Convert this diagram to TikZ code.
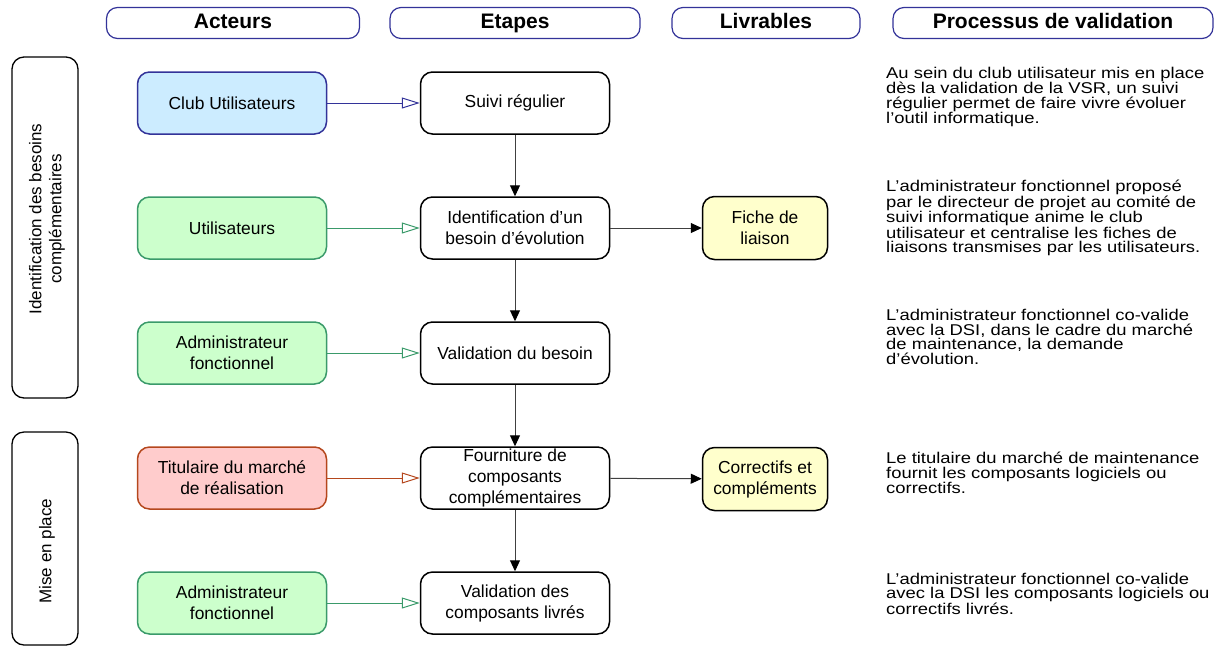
\documentclass[tikz,border=0pt]{standalone}
\usepackage{fontspec}
\setmainfont{Liberation Sans}
\newfontfamily\descfont[FakeStretch=1.18]{Liberation Sans}
\usetikzlibrary{arrows.meta}
\definecolor{hdrblue}{HTML}{333399}
\definecolor{clubfill}{HTML}{CCECFF}
\definecolor{grnline}{HTML}{3A9A6A}
\definecolor{grnfill}{HTML}{CCFFCC}
\definecolor{redline}{HTML}{B5471D}
\definecolor{redfill}{HTML}{FFCCCC}
\definecolor{yelfill}{HTML}{FFFFCC}
\tikzset{
  hdr/.style={draw=hdrblue, line width=1.2pt, rounded corners=11pt, fill=white,
    minimum height=31pt, inner sep=0pt, text height=15pt, text depth=4pt,
    font=\fontsize{21}{24}\selectfont\bfseries},
  side/.style={draw=black, line width=1.3pt, rounded corners=12pt, fill=white},
  sidetxt/.style={rotate=90, align=center, font=\fontsize{17}{20}\selectfont},
  boxbase/.style={line width=1.5pt, rounded corners=12pt, minimum width=189pt,
    minimum height=62pt, inner sep=0pt, align=center,
    font=\fontsize{17.4}{21}\selectfont},
  clubbox/.style={boxbase, draw=hdrblue, fill=clubfill},
  grnbox/.style={boxbase, draw=grnline, fill=grnfill},
  redbox/.style={boxbase, draw=redline, fill=redfill},
  etape/.style={boxbase, draw=black, fill=white},
  livr/.style={boxbase, draw=black, fill=yelfill, minimum width=125pt, minimum height=63pt},
  desc/.style={anchor=west, align=left, inner sep=0pt, font=\descfont\fontsize{15.6}{14.4}\selectfont},
  actarrow/.style={line width=1pt, -{Triangle[open, length=18pt, width=11pt, line width=1pt]}},
  flow/.style={line width=1pt, draw=black!75, -{Triangle[length=11pt, width=10pt, fill=black, color=black]}}
}
\begin{document}
\begin{tikzpicture}[x=1pt, y=-1pt]
\useasboundingbox (0,0) rectangle (1222,649);
% headers
\node[hdr, minimum width=253pt] (hA) at (233,23) {Acteurs};
\node[hdr, minimum width=250pt] (hE) at (515,23) {Etapes};
\node[hdr, minimum width=188pt] (hL) at (766,23) {Livrables};
\node[hdr, minimum width=320pt] (hP) at (1053,23) {Processus de validation};
% side boxes
\draw[side] (12,57) rectangle (78,398);
\node[sidetxt] (s1) at (47,219) {Identification des besoins\\compl\'ementaires};
\draw[side] (12,432) rectangle (78,645);
\node[sidetxt] (s2) at (47,551) {Mise en place};
% actors
\node[clubbox] (a1) at (232,103) {Club Utilisateurs};
\node[grnbox] (a2) at (232,228) {Utilisateurs};
\node[grnbox] (a3) at (232,353) {Administrateur\\fonctionnel};
\node[redbox] (a4) at (232,478) {Titulaire du march\'e\\de r\'ealisation};
\node[grnbox] (a5) at (232,603) {Administrateur\\fonctionnel};
% etapes
\node[etape] (e1) at (515,103) {Suivi r\'egulier};
\node[etape] (e2) at (515,228) {Identification d’un\\besoin d’\'evolution};
\node[etape] (e3) at (515,353) {Validation du besoin};
\node[etape] (e4) at (515,478) {Fourniture de\\composants\\compl\'ementaires};
\node[etape] (e5) at (515,603) {Validation des\\composants livr\'es};
% livrables
\node[livr] (l1) at (765,228) {Fiche de\\liaison};
\node[livr] (l2) at (765,479) {Correctifs et\\compl\'ements};
% arrows actors -> etapes
\draw[actarrow, hdrblue] (a1) -- (e1);
\draw[actarrow, grnline] (a2) -- (e2);
\draw[actarrow, grnline] (a3) -- (e3);
\draw[actarrow, redline] (a4) -- (e4);
\draw[actarrow, grnline] (a5) -- (e5);
% flow
\draw[flow] (e1) -- (e2);
\draw[flow] (e2) -- (e3);
\draw[flow] (e3) -- (e4);
\draw[flow] (e4) -- (e5);
\draw[flow] (e2) -- (l1);
\draw[flow] (e4) -- (l2);
% descriptions
\node[desc] (d1) at (886,97) {Au sein du club utilisateur mis en place\\d\`es la validation de la VSR, un suivi\\r\'egulier permet de faire vivre \'evoluer\\l’outil informatique.};
\node[desc] (d2) at (886,218) {L’administrateur fonctionnel propos\'e\\par le directeur de projet au comit\'e de\\suivi informatique anime le club\\utilisateur et centralise les fiches de\\liaisons transmises par les utilisateurs.};
\node[desc] (d3) at (886,337) {L’administrateur fonctionnel co-valide\\avec la DSI, dans le cadre du march\'e\\de maintenance, la demande\\d’\'evolution.};
\node[desc] (d4) at (886,473) {Le titulaire du march\'e de maintenance\\fournit les composants logiciels ou\\correctifs.};
\node[desc] (d5) at (886,594) {L’administrateur fonctionnel co-valide\\avec la DSI les composants logiciels ou\\correctifs livr\'es.};
\end{tikzpicture}
\end{document}
